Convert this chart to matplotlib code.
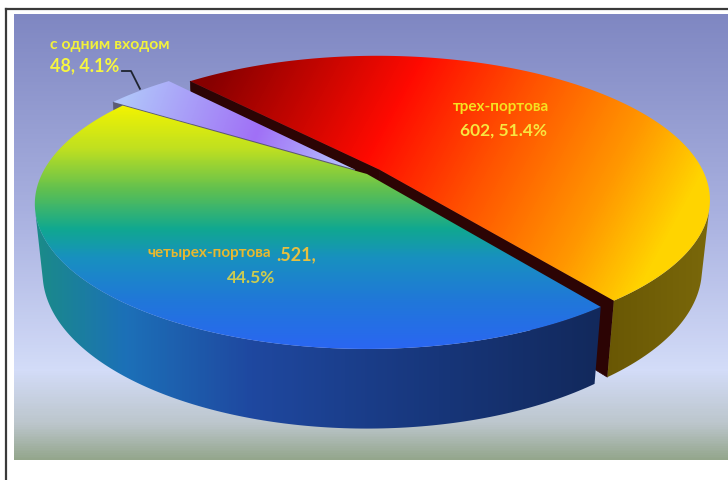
import numpy as np
import matplotlib.pyplot as plt
from matplotlib.patches import Polygon
from matplotlib.colors import LinearSegmentedColormap

# данные
labels = ['с одним входом', 'четырех-портова', 'трех-портова']
values = [48, 521, 602]
explode = [0.05, 0.0, 0.05]
start_angle = 132

W, H = 728, 481
fig = plt.figure(figsize=(W / 100, H / 100), dpi=100)
ax = fig.add_axes([0, 0, 1, 1])
ax.set_xlim(0, W)
ax.set_ylim(H, 0)
ax.axis('off')

# камера (перспектива как у 3D-круговой диаграммы Excel)
elev = np.radians(25.3)
dist = 4.39
focal = 1427
thick = 0.235
cx, cy = 367, 175
ce, se = np.cos(elev), np.sin(elev)
cam = np.array([0, -dist * ce, dist * se])


def proj(x, y, z):
    depth = ce * y - se * z + dist
    return cx + x / depth * focal, cy - (se * y + ce * z) / depth * focal, depth


XX, YY = np.meshgrid(np.arange(W) + 0.5, np.arange(H) + 0.5)


def grad_fill(xy, colors, p0, p1, z):
    patch = Polygon(xy, closed=True, fc='none', ec='none')
    ax.add_patch(patch)
    dx, dy = p1[0] - p0[0], p1[1] - p0[1]
    t = ((XX - p0[0]) * dx + (YY - p0[1]) * dy) / (dx * dx + dy * dy)
    cmap = LinearSegmentedColormap.from_list('g', colors)
    im = ax.imshow(cmap(np.clip(t, 0, 1)), extent=(0, W, H, 0), zorder=z,
                   interpolation='bilinear', aspect='auto')
    im.set_clip_path(patch)


# фон
grad_fill([(14, 15), (728, 15), (728, 461), (14, 461)],
          [(0, '#7f87c2'), (0.45, '#a9b1e0'), (0.8, '#d3dcf8'), (0.92, '#bcc6cc'), (1, '#94a68c')],
          (0, 15), (0, 461), 0)
ax.plot([6, 6], [10, H], color='#3a3a3a', lw=1.6, zorder=1)
ax.plot([6, W], [10, 10], color='#3a3a3a', lw=1.6, zorder=1)

# стили долей
top_style = [
    ([(0, '#b0c4fa'), (0.55, '#a070f6'), (1, '#b8ccff')], (130, 90), (360, 172)),
    ([(0, '#f4f400'), (0.18, '#c0e020'), (0.35, '#60c050'), (0.51, '#10a890'),
      (0.63, '#1890c0'), (0.8, '#2078d8'), (1, '#2a66f2')], (0, 105), (0, 350)),
    ([(0, '#860000'), (0.37, '#ff0a00'), (0.59, '#ff5000'), (0.84, '#ff9800'), (1, '#ffd400')],
     (220, 60), (640, 290)),
]
side_style = [
    ([(0, '#8080a0'), (1, '#606078')], (0, 0), (W, 0)),
    ([(0, '#1a8a8a'), (0.15, '#1c70b8'), (0.37, '#1f48a0'), (0.7, '#17367a'), (1, '#12285a')],
     (40, 0), (610, 0)),
    ([(0, '#685604'), (1, '#7a680a')], (600, 0), (710, 0)),
]
cut_color = ['#5c5c74', '#0d5050', '#2c0404']

total = sum(values)
bounds = start_angle + 360 * np.concatenate([[0], np.cumsum(values) / total])

faces = []
tops = []
for i in range(len(values)):
    t0, t1 = bounds[i], bounds[i + 1]
    mid = np.radians((t0 + t1) / 2)
    ox, oy = explode[i] * np.cos(mid), explode[i] * np.sin(mid)
    ang = np.radians(np.linspace(t0, t1, 200))
    # верхняя грань
    pts = [proj(ox, oy, 0)[:2]] + [proj(ox + np.cos(a), oy + np.sin(a), 0)[:2] for a in ang]
    tops.append((i, pts))
    # радиальные грани
    for a, sgn in ((np.radians(t0), -1), (np.radians(t1), 1)):
        n = np.array([np.cos(a + sgn * np.pi / 2), np.sin(a + sgn * np.pi / 2), 0])
        c3 = np.array([ox + 0.5 * np.cos(a), oy + 0.5 * np.sin(a), -thick / 2])
        if n @ (cam - c3) > 0:
            corners = [(ox, oy, 0), (ox + np.cos(a), oy + np.sin(a), 0),
                       (ox + np.cos(a), oy + np.sin(a), -thick), (ox, oy, -thick)]
            xy = [proj(*p)[:2] for p in corners]
            d = np.mean([proj(*p)[2] for p in corners])
            faces.append((d, 'cut', i, xy))
    # боковая поверхность
    vis = []
    for a in ang:
        p = np.array([ox + np.cos(a), oy + np.sin(a), -thick / 2])
        vis.append(np.array([np.cos(a), np.sin(a), 0]) @ (cam - p) > 0)
    vis = np.array(vis)
    if vis.any():
        va = ang[vis]
        topl = [proj(ox + np.cos(a), oy + np.sin(a), 0)[:2] for a in va]
        botl = [proj(ox + np.cos(a), oy + np.sin(a), -thick)[:2] for a in va[::-1]]
        d = np.mean([proj(ox + np.cos(a), oy + np.sin(a), -thick / 2)[2] for a in va])
        faces.append((d, 'side', i, topl + botl))

faces.sort(key=lambda f: -f[0])
z = 2
for d, kind, i, xy in faces:
    if kind == 'cut':
        ax.add_patch(Polygon(xy, closed=True, fc=cut_color[i], ec=cut_color[i], lw=0.5, zorder=z))
    else:
        cols, p0, p1 = side_style[i]
        grad_fill(xy, cols, p0, p1, z)
    z += 1
for i, pts in tops:
    cols, p0, p1 = top_style[i]
    grad_fill(pts, cols, p0, p1, z)
    z += 1

# подписи
pct = [100 * v / total for v in values]
fnt = dict(family='Lato', weight='bold', zorder=50)
ax.text(50, 45, labels[0], fontsize=11.3, color='#f2f23a', va='center', ha='left', **fnt)
ax.text(50, 66, f'{values[0]}, {pct[0]:.1f}%', fontsize=13, color='#f6f640', va='center', ha='left', **fnt)
m0 = np.radians((bounds[0] + bounds[1]) / 2)
ex, ey, _ = proj((1 + explode[0]) * np.cos(m0), (1 + explode[0]) * np.sin(m0), 0)
ax.plot([122, 131, ex], [72, 72, ey - 2], color='#1e2430', lw=1.3, zorder=50)

ax.text(501, 107, labels[2], fontsize=11, color='#f6e020', va='center', ha='center', **fnt)
ax.text(504, 131, f'{values[2]}, {pct[2]:.1f}%', fontsize=12.5, color='#f8e640', va='center', ha='center', **fnt)

ax.text(147, 253, labels[1], fontsize=11, color='#e8b830', va='center', ha='left', **fnt)
ax.text(276, 255, f'.{values[1]},', fontsize=13, color='#e6c040', va='center', ha='left', **fnt)
ax.text(251, 278, f'{pct[1]:.1f}%', fontsize=12.5, color='#cccc50', va='center', ha='center', **fnt)

fig.savefig('out.png', dpi=100)
